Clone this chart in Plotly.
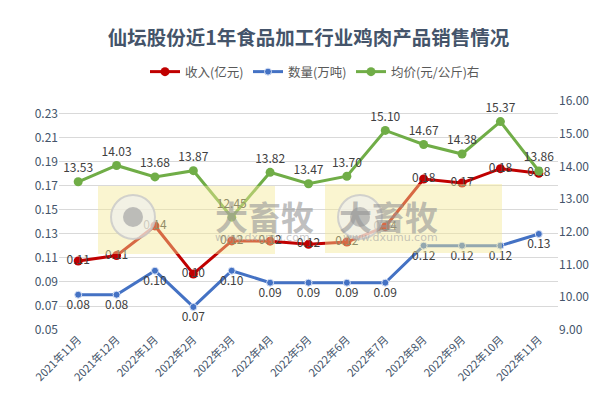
import plotly.graph_objects as go

months = ["2021年11月", "2021年12月", "2022年1月", "2022年2月", "2022年3月", "2022年4月",
          "2022年5月", "2022年6月", "2022年7月", "2022年8月", "2022年9月", "2022年10月", "2022年11月"]
revenue = [0.1075, 0.112, 0.1367, 0.0967, 0.1242, 0.124, 0.1214, 0.1233, 0.1361, 0.1758, 0.1725, 0.1844, 0.1806]
volume = [0.0794, 0.0794, 0.0994, 0.0692, 0.0994, 0.0894, 0.0894, 0.0894, 0.0894, 0.1203, 0.1203, 0.1203, 0.13]
price = [13.53, 14.03, 13.68, 13.87, 12.45, 13.82, 13.47, 13.70, 15.10, 14.67, 14.38, 15.37, 13.86]

FONT = "Noto Sans CJK SC"
LBL = dict(family=FONT, size=12, color="#404040")

# plot area in pixels
PL, PR, PT, PB = 59, 558, 101, 330


def px(x):
    return (x - PL) / (PR - PL)


def py(y):
    return (PB - y) / (PB - PT)


fig = go.Figure()
fig.add_trace(go.Scatter(
    x=months, y=revenue, name="收入(亿元)", mode="lines+markers+text", legend="legend",
    line=dict(color="#C00000", width=3), marker=dict(size=9, color="#C00000"),
    texttemplate="%{y:.2f}", textposition="middle center", textfont=LBL, yaxis="y"))
fig.add_trace(go.Scatter(
    x=months, y=volume, name="数量(万吨)", mode="lines+markers+text", legend="legend2",
    line=dict(color="#4472C4", width=3),
    marker=dict(size=7, color="#4472C4", line=dict(color="#D6E0F5", width=1)),
    texttemplate="%{y:.2f}", textposition="bottom center", textfont=LBL, yaxis="y"))
fig.add_trace(go.Scatter(
    x=months, y=price, name="均价(元/公斤)右", mode="lines+markers+text", legend="legend3",
    line=dict(color="#70AD47", width=3), marker=dict(size=9, color="#70AD47"),
    texttemplate="%{y:.2f}", textposition="top center", textfont=LBL, yaxis="y2"))

# watermark boxes (decoration)
shapes = []
annotations = []
for bx0, bx1, by0, by1 in [(98, 275, 186, 254), (325, 502, 184, 253)]:
    shapes.append(dict(type="rect", xref="paper", yref="paper", x0=px(bx0), x1=px(bx1), y0=py(by1), y1=py(by0),
                       fillcolor="rgba(245,232,150,0.45)", line=dict(width=0), layer="above"))
    cx, cy = bx0 + 35, 217
    shapes.append(dict(type="circle", xref="paper", yref="paper",
                       x0=px(cx - 22), x1=px(cx + 22), y0=py(cy + 22), y1=py(cy - 22),
                       fillcolor="rgba(238,238,238,0.65)", line=dict(color="rgba(200,200,200,0.8)", width=2),
                       layer="above"))
    shapes.append(dict(type="circle", xref="paper", yref="paper",
                       x0=px(cx - 10), x1=px(cx + 10), y0=py(cy + 10), y1=py(cy - 10),
                       fillcolor="rgba(170,170,170,0.75)", line=dict(width=0), layer="above"))
    annotations.append(dict(xref="paper", yref="paper", x=px(bx0 + 115), y=py(216), text="<b>大畜牧</b>",
                            showarrow=False, font=dict(family=FONT, size=33, color="rgba(150,150,150,0.6)")))
    annotations.append(dict(xref="paper", yref="paper", x=px(bx0 + 115), y=py(237), text="www.dxumu.com",
                            showarrow=False, font=dict(family="DejaVu Sans", size=11, color="rgba(160,160,160,0.6)")))

legend_common = dict(orientation="h", xanchor="left", y=py(72), yanchor="middle",
                     font=dict(family=FONT, size=12.5, color="#595959"), itemwidth=30,
                     bgcolor="rgba(0,0,0,0)")

fig.update_layout(
    width=611, height=402,
    margin=dict(l=PL, r=611 - PR, t=PT, b=402 - PB, autoexpand=False),
    paper_bgcolor="white", plot_bgcolor="white",
    title=dict(text="<b>仙坛股份近1年食品加工行业鸡肉产品销售情况</b>", x=0.5, xanchor="center",
               xref="paper", y=1 - 38 / 402, yanchor="middle",
               font=dict(family=FONT, size=19.5, color="#44546A")),
    legend=dict(legend_common, x=px(145)),
    legend2=dict(legend_common, x=px(248)),
    legend3=dict(legend_common, x=px(351)),
    xaxis=dict(type="category", range=[-0.5, 12.5], tickangle=-45, automargin=False,
               tickfont=dict(family=FONT, size=11, color="#44546A"),
               showgrid=False, showline=False, ticks=""),
    yaxis=dict(range=[0.05, 0.2408], tick0=0.05, dtick=0.02, tickformat=".2f", automargin=False,
               showgrid=True, gridcolor="#D9D9D9", gridwidth=1, zeroline=False, showline=False,
               tickfont=dict(family=FONT, size=12, color="#44546A"), ticks="", ticklen=0),
    yaxis2=dict(range=[9, 16], dtick=1, tickformat=".2f", overlaying="y", side="right", automargin=False,
                showgrid=False, zeroline=False, showline=False,
                tickfont=dict(family=FONT, size=12, color="#44546A")),
    shapes=shapes, annotations=annotations, showlegend=True,
)

fig.write_html("out.html", config={"displayModeBar": False},
               post_script="document.body.style.margin='0';document.body.style.overflow='hidden';")
